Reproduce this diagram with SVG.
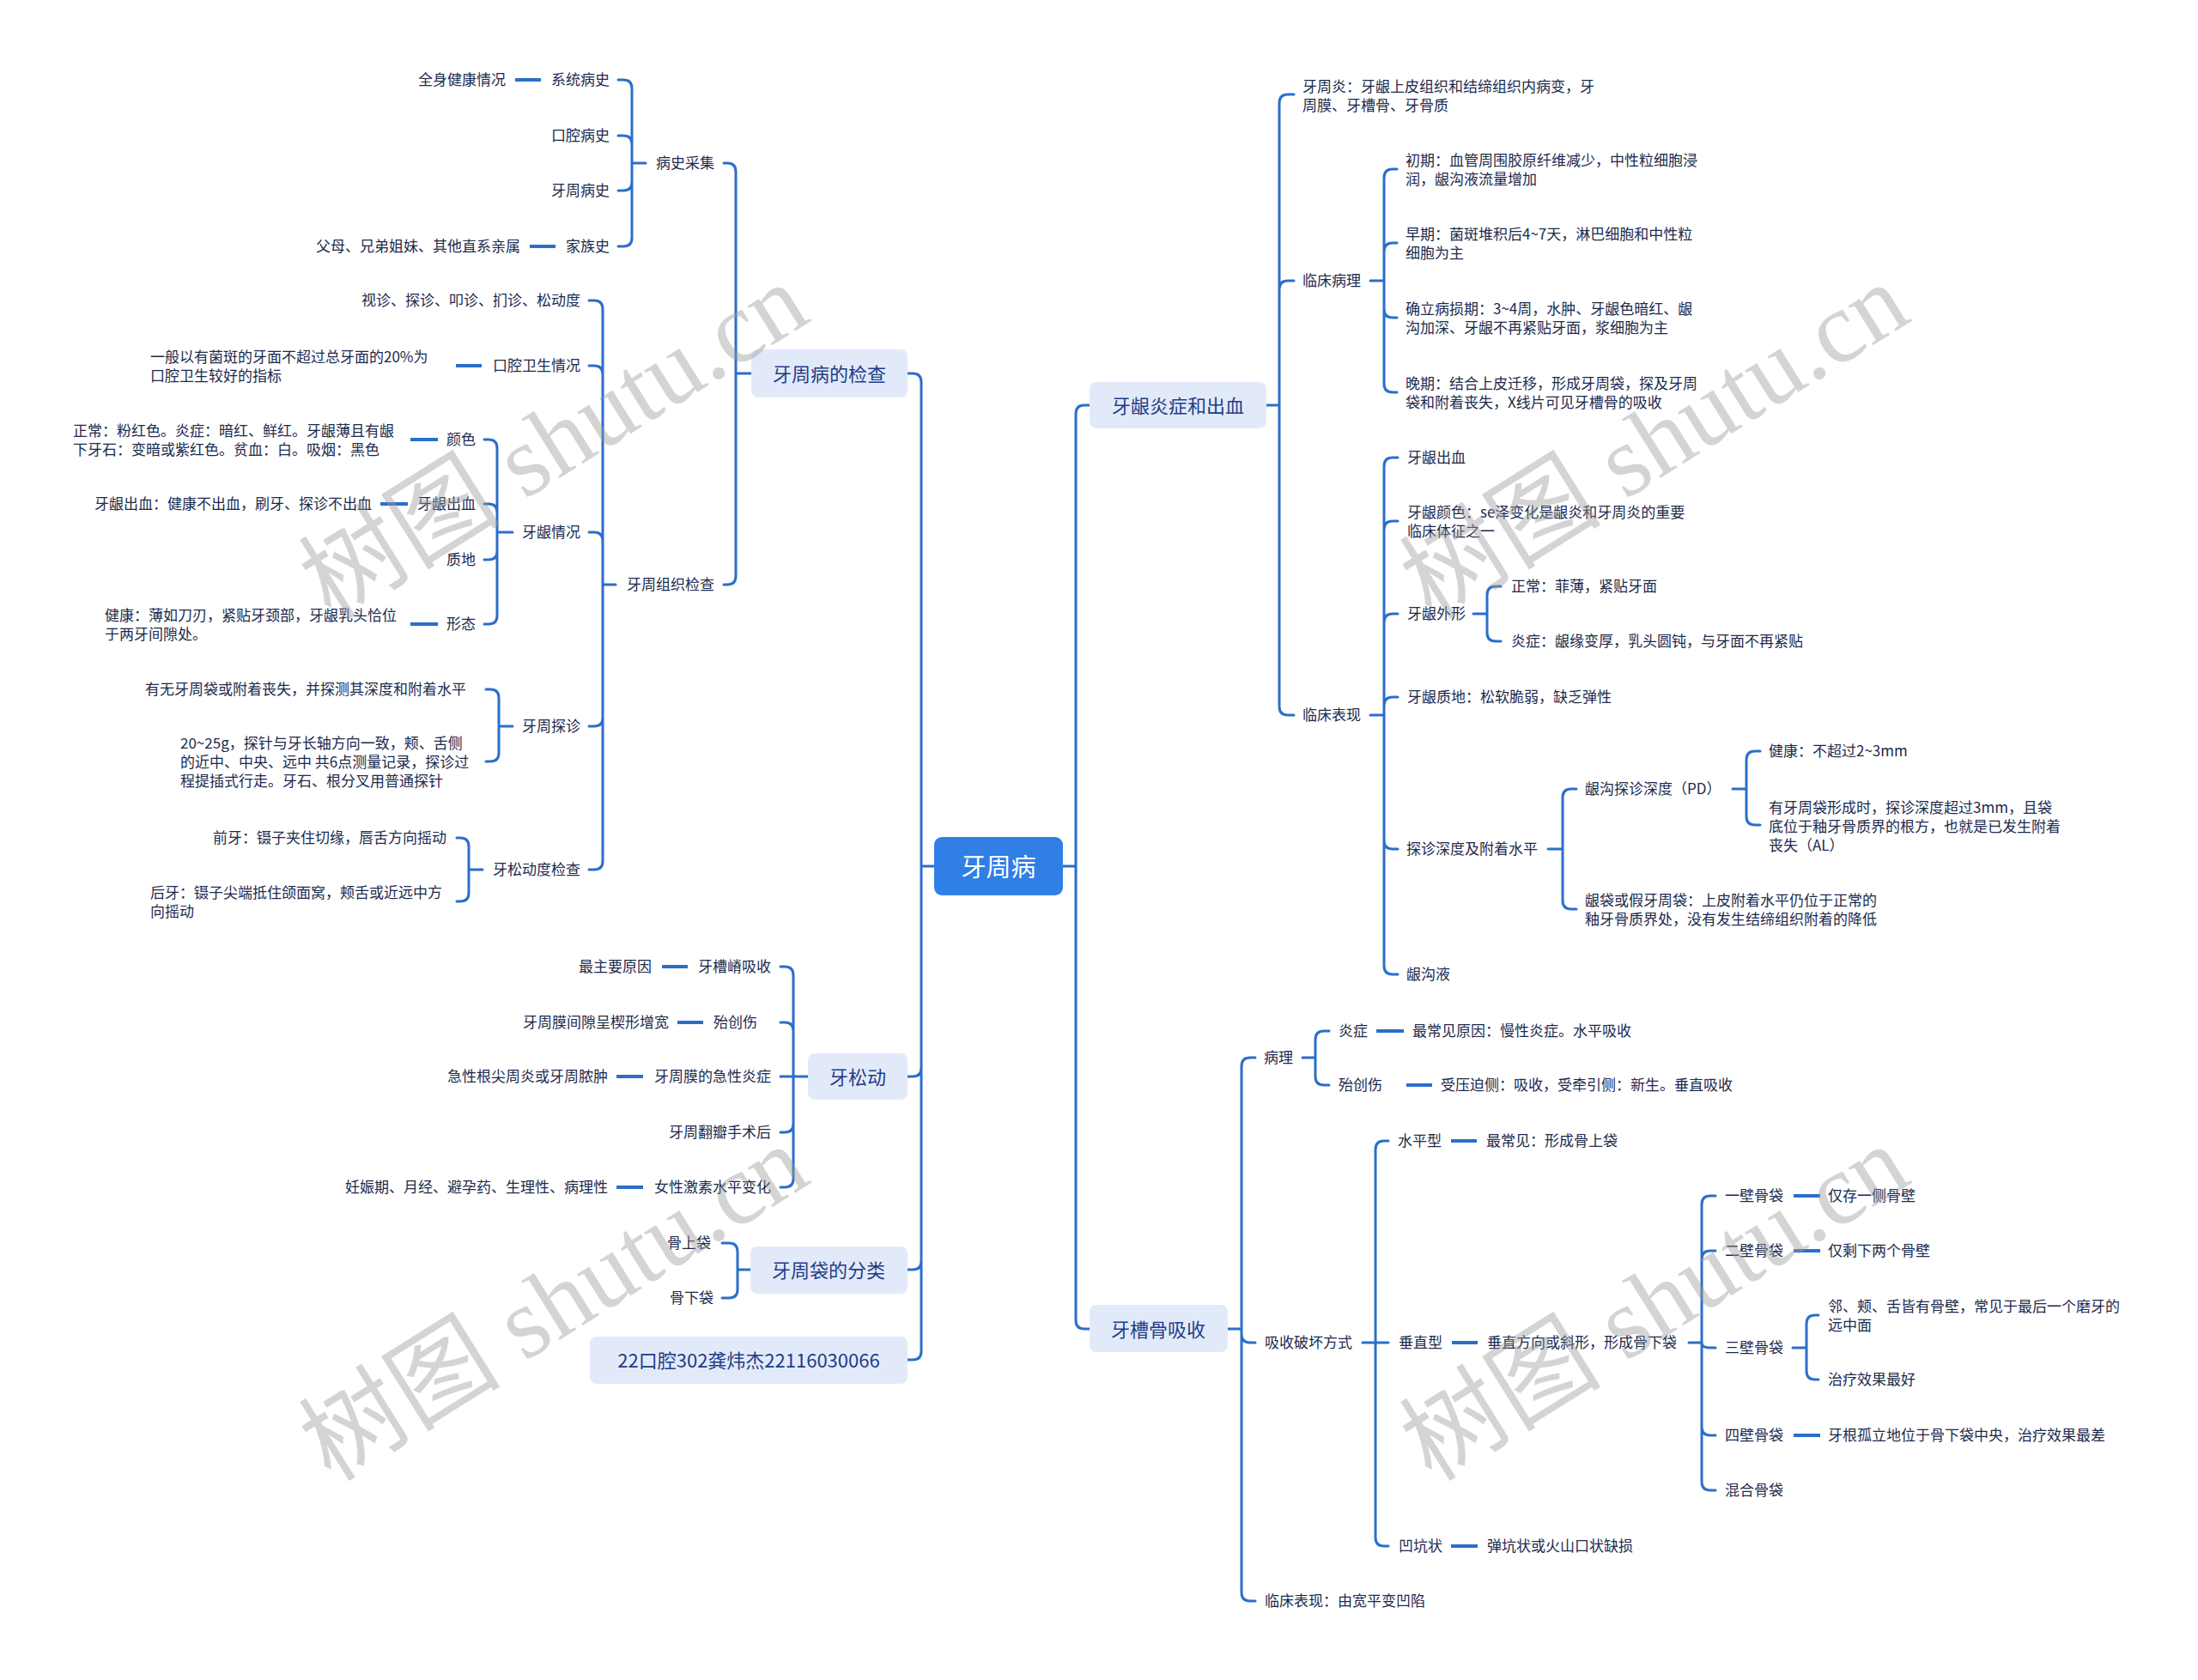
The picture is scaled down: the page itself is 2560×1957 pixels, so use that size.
<svg xmlns="http://www.w3.org/2000/svg" width="2560" height="1957" viewBox="0 0 2560 1957">
<style>
.ln{fill:none;stroke:#2a6fca;stroke-width:3;stroke-linecap:round;stroke-linejoin:round}
.lf{fill:none;stroke:#2a6fca;stroke-width:4}
text{font-family:"Noto Sans CJK SC","Noto Sans",sans-serif;dominant-baseline:central}
.t{font-size:17px;fill:#1c2a4d}
.e{text-anchor:end}
.t1{font-size:22px;fill:#1f3d86;text-anchor:middle}
.b1{fill:#e2eafa}
.wm{font-family:"Liberation Serif","Noto Sans CJK SC",serif;font-size:118px;fill:#9a9a9a;opacity:0.42;dominant-baseline:auto}
</style>
<rect width="2560" height="1957" fill="#ffffff"/>
<g id="connectors">
<path class="ln" d="M1088 1009H1073M1073 1009V445Q1073 435 1063 435H1057M1073 1009V1244Q1073 1254 1063 1254H1057M1073 1009V1469Q1073 1479 1063 1479H1057M1073 1009V1574Q1073 1584 1063 1584H1057"/>
<path class="ln" d="M1238 1009H1253M1253 1009V482Q1253 472 1263 472H1269M1253 1009V1538Q1253 1548 1263 1548H1269"/>
<path class="ln" d="M875 435H857M857 435V200Q857 190 847 190H843M857 435V671Q857 681 847 681H843"/>
<path class="ln" d="M752 190H736M736 190V103Q736 93 726 93H720M736 190V168Q736 158 726 158H720M736 190V212Q736 222 726 222H720M736 190V277Q736 287 726 287H720"/>
<path class="lf" d="M600 93H630M617 287H647"/>
<path class="ln" d="M717 681H702M702 681V360Q702 350 692 350H686M702 681V436Q702 426 692 426H686M702 681V630Q702 620 692 620H686M702 681V836Q702 846 692 846H686M702 681V1003Q702 1013 692 1013H686"/>
<path class="lf" d="M531 426H561"/>
<path class="ln" d="M597 620H579M579 620V522Q579 512 569 512H564M579 620V597Q579 587 569 587H564M579 620V642Q579 652 569 652H564M579 620V717Q579 727 569 727H564"/>
<path class="lf" d="M478 512H510M443 587H475M478 727H510"/>
<path class="ln" d="M597 846H581M581 846V813Q581 803 571 803H566M581 846V877Q581 887 571 887H566"/>
<path class="ln" d="M562 1013H546M546 1013V986Q546 976 536 976H532M546 1013V1040Q546 1050 536 1050H532"/>
<path class="ln" d="M941 1254H924M924 1254V1136Q924 1126 914 1126H909M924 1254V1201Q924 1191 914 1191H909M924 1254H909M924 1254V1309Q924 1319 914 1319H909M924 1254V1373Q924 1383 914 1383H909"/>
<path class="lf" d="M771 1126H801M789 1191H819M718 1254H749M718 1383H749"/>
<path class="ln" d="M874 1479H859M859 1479V1458Q859 1448 849 1448H841M859 1479V1502Q859 1512 849 1512H841"/>
<path class="ln" d="M1475 472H1490M1490 472V120Q1490 110 1500 110H1507M1490 472V337Q1490 327 1500 327H1507M1490 472V823Q1490 833 1500 833H1507"/>
<path class="ln" d="M1596 327H1612M1612 327V207Q1612 197 1622 197H1627M1612 327V293Q1612 283 1622 283H1627M1612 327V360Q1612 370 1622 370H1627M1612 327V447Q1612 457 1622 457H1627"/>
<path class="ln" d="M1596 833H1612M1612 833V543Q1612 533 1622 533H1628M1612 833V617Q1612 607 1622 607H1628M1612 833V725Q1612 715 1622 715H1628M1612 833V822Q1612 812 1622 812H1628M1612 833V979Q1612 989 1622 989H1628M1612 833V1125Q1612 1135 1622 1135H1628"/>
<path class="ln" d="M1716 715H1732M1732 715V693Q1732 683 1742 683H1748M1732 715V737Q1732 747 1742 747H1748"/>
<path class="ln" d="M1803 989H1820M1820 989V929Q1820 919 1830 919H1836M1820 989V1049Q1820 1059 1830 1059H1836"/>
<path class="ln" d="M2018 919H2034M2034 919V885Q2034 875 2044 875H2050M2034 919V951Q2034 961 2044 961H2050"/>
<path class="ln" d="M1430 1548H1446M1446 1548V1242Q1446 1232 1456 1232H1462M1446 1548V1554Q1446 1564 1456 1564H1462M1446 1548V1855Q1446 1865 1456 1865H1462"/>
<path class="ln" d="M1517 1232H1532M1532 1232V1211Q1532 1201 1542 1201H1548M1532 1232V1254Q1532 1264 1542 1264H1548"/>
<path class="lf" d="M1603 1201H1635M1638 1264H1668"/>
<path class="ln" d="M1587 1564H1602M1602 1564V1339Q1602 1329 1612 1329H1617M1602 1564H1617M1602 1564V1791Q1602 1801 1612 1801H1617"/>
<path class="lf" d="M1690 1329H1720M1691 1564H1721M1690 1801H1721"/>
<path class="ln" d="M1967 1564H1982M1982 1564V1403Q1982 1393 1992 1393H1998M1982 1564V1467Q1982 1457 1992 1457H1998M1982 1564Q1982 1570 1992 1570H1998M1982 1564V1662Q1982 1672 1992 1672H1998M1982 1564V1726Q1982 1736 1992 1736H1998"/>
<path class="lf" d="M2089 1393H2120M2089 1457H2120M2089 1672H2120"/>
<path class="ln" d="M2088 1570H2104M2104 1570V1542Q2104 1532 2114 1532H2118M2104 1570V1597Q2104 1607 2114 1607H2118"/>
</g>
<g id="root"><rect x="1088" y="975" width="150" height="68" rx="9" fill="#2f7fe6"/><text x="1163" y="1008" style="font-size:29px;fill:#ffffff;text-anchor:middle">牙周病</text></g>
<g id="n-exam"><rect class="b1" x="875" y="407" width="182" height="56" rx="8"/><text class="t1" x="966" y="434">牙周病的检查</text></g>
<g id="n-loose"><rect class="b1" x="941" y="1227" width="116" height="54" rx="8"/><text class="t1" x="999" y="1253">牙松动</text></g>
<g id="n-pocket"><rect class="b1" x="874" y="1452" width="183" height="55" rx="8"/><text class="t1" x="965" y="1478">牙周袋的分类</text></g>
<g id="n-author"><rect class="b1" x="687" y="1557" width="370" height="55" rx="8"/><text class="t1" x="872" y="1583">22口腔302龚炜杰22116030066</text></g>
<g id="n-gum"><rect class="b1" x="1269" y="445" width="206" height="54" rx="8"/><text class="t1" x="1372" y="471">牙龈炎症和出血</text></g>
<g id="n-bone"><rect class="b1" x="1269" y="1520" width="161" height="55" rx="8"/><text class="t1" x="1349" y="1547">牙槽骨吸收</text></g>
<g id="left-texts" transform="translate(0 -1.5)">
<g id="n-history"><text class="t e" x="832" y="190">病史采集</text></g>
<g id="n-sys"><text class="t e" x="710" y="93">系统病史</text></g>
<g id="n-sys1"><text class="t e" x="589" y="93">全身健康情况</text></g>
<g id="n-oral"><text class="t e" x="710" y="158">口腔病史</text></g>
<g id="n-perio"><text class="t e" x="710" y="222">牙周病史</text></g>
<g id="n-family"><text class="t e" x="710" y="287">家族史</text></g>
<g id="n-family1"><text class="t e" x="606" y="287">父母、兄弟姐妹、其他直系亲属</text></g>
<g id="n-tissue"><text class="t e" x="832" y="681">牙周组织检查</text></g>
<g id="n-visual"><text class="t e" x="676" y="350">视诊、探诊、叩诊、扪诊、松动度</text></g>
<g id="n-hyg"><text class="t e" x="676" y="426">口腔卫生情况</text></g>
<g id="n-hyg1"><text class="t" x="175"><tspan x="175" y="415">一般以有菌斑的牙面不超过总牙面的20%为</tspan><tspan x="175" y="437">口腔卫生较好的指标</tspan></text></g>
<g id="n-gingiva"><text class="t e" x="676" y="620">牙龈情况</text></g>
<g id="n-color"><text class="t e" x="554" y="512">颜色</text></g>
<g id="n-color1"><text class="t" x="85"><tspan x="85" y="501">正常：粉红色。炎症：暗红、鲜红。牙龈薄且有龈</tspan><tspan x="85" y="523">下牙石：变暗或紫红色。贫血：白。吸烟：黑色</tspan></text></g>
<g id="n-bleed"><text class="t e" x="554" y="587">牙龈出血</text></g>
<g id="n-bleed1"><text class="t e" x="433" y="587">牙龈出血：健康不出血，刷牙、探诊不出血</text></g>
<g id="n-texture"><text class="t e" x="554" y="652">质地</text></g>
<g id="n-shape"><text class="t e" x="554" y="727">形态</text></g>
<g id="n-shape1"><text class="t" x="122"><tspan x="122" y="716">健康：薄如刀刃，紧贴牙颈部，牙龈乳头恰位</tspan><tspan x="122" y="738">于两牙间隙处。</tspan></text></g>
<g id="n-probe"><text class="t e" x="676" y="846">牙周探诊</text></g>
<g id="n-probe1"><text class="t e" x="543" y="803">有无牙周袋或附着丧失，并探测其深度和附着水平</text></g>
<g id="n-probe2"><text class="t" x="210"><tspan x="210" y="865">20~25g，探针与牙长轴方向一致，颊、舌侧</tspan><tspan x="210" y="887">的近中、中央、远中 共6点测量记录，探诊过</tspan><tspan x="210" y="909">程提插式行走。牙石、根分叉用普通探针</tspan></text></g>
<g id="n-mob"><text class="t e" x="676" y="1013">牙松动度检查</text></g>
<g id="n-mob1"><text class="t e" x="520" y="976">前牙：镊子夹住切缘，唇舌方向摇动</text></g>
<g id="n-mob2"><text class="t" x="175"><tspan x="175" y="1039">后牙：镊子尖端抵住颌面窝，颊舌或近远中方</tspan><tspan x="175" y="1061">向摇动</tspan></text></g>
<g id="n-l1"><text class="t e" x="898" y="1126">牙槽嵴吸收</text></g>
<g id="n-l1a"><text class="t e" x="759" y="1126">最主要原因</text></g>
<g id="n-l2"><text class="t e" x="882" y="1191">殆创伤</text></g>
<g id="n-l2a"><text class="t e" x="779" y="1191">牙周膜间隙呈楔形增宽</text></g>
<g id="n-l3"><text class="t e" x="898" y="1254">牙周膜的急性炎症</text></g>
<g id="n-l3a"><text class="t e" x="708" y="1254">急性根尖周炎或牙周脓肿</text></g>
<g id="n-l4"><text class="t e" x="898" y="1319">牙周翻瓣手术后</text></g>
<g id="n-l5"><text class="t e" x="898" y="1383">女性激素水平变化</text></g>
<g id="n-l5a"><text class="t e" x="708" y="1383">妊娠期、月经、避孕药、生理性、病理性</text></g>
<g id="n-p1"><text class="t e" x="828" y="1448">骨上袋</text></g>
<g id="n-p2"><text class="t e" x="831" y="1512">骨下袋</text></g>
</g>
<g id="right-texts" transform="translate(0 -1.5)">
<g id="n-r1"><text class="t" x="1517"><tspan x="1517" y="100">牙周炎：牙龈上皮组织和结缔组织内病变，牙</tspan><tspan x="1517" y="122">周膜、牙槽骨、牙骨质</tspan></text></g>
<g id="n-r2"><text class="t" x="1517" y="327">临床病理</text></g>
<g id="n-r2a"><text class="t" x="1637"><tspan x="1637" y="186">初期：血管周围胶原纤维减少，中性粒细胞浸</tspan><tspan x="1637" y="208">润，龈沟液流量增加</tspan></text></g>
<g id="n-r2b"><text class="t" x="1637"><tspan x="1637" y="272">早期：菌斑堆积后4~7天，淋巴细胞和中性粒</tspan><tspan x="1637" y="294">细胞为主</tspan></text></g>
<g id="n-r2c"><text class="t" x="1637"><tspan x="1637" y="359">确立病损期：3~4周，水肿、牙龈色暗红、龈</tspan><tspan x="1637" y="381">沟加深、牙龈不再紧贴牙面，浆细胞为主</tspan></text></g>
<g id="n-r2d"><text class="t" x="1637"><tspan x="1637" y="446">晚期：结合上皮迁移，形成牙周袋，探及牙周</tspan><tspan x="1637" y="468">袋和附着丧失，X线片可见牙槽骨的吸收</tspan></text></g>
<g id="n-r3"><text class="t" x="1517" y="833">临床表现</text></g>
<g id="n-r3a"><text class="t" x="1639" y="533">牙龈出血</text></g>
<g id="n-r3b"><text class="t" x="1639"><tspan x="1639" y="596">牙龈颜色：se泽变化是龈炎和牙周炎的重要</tspan><tspan x="1639" y="618">临床体征之一</tspan></text></g>
<g id="n-r3c"><text class="t" x="1639" y="715">牙龈外形</text></g>
<g id="n-r3c1"><text class="t" x="1760" y="683">正常：菲薄，紧贴牙面</text></g>
<g id="n-r3c2"><text class="t" x="1760" y="747">炎症：龈缘变厚，乳头圆钝，与牙面不再紧贴</text></g>
<g id="n-r3d"><text class="t" x="1639" y="812">牙龈质地：松软脆弱，缺乏弹性</text></g>
<g id="n-r3e"><text class="t" x="1638" y="989">探诊深度及附着水平</text></g>
<g id="n-r3e1"><text class="t" x="1846" y="919">龈沟探诊深度（PD）</text></g>
<g id="n-r3e1a"><text class="t" x="2060" y="875">健康：不超过2~3mm</text></g>
<g id="n-r3e1b"><text class="t" x="2060"><tspan x="2060" y="940">有牙周袋形成时，探诊深度超过3mm，且袋</tspan><tspan x="2060" y="962">底位于釉牙骨质界的根方，也就是已发生附着</tspan><tspan x="2060" y="984">丧失（AL）</tspan></text></g>
<g id="n-r3e2"><text class="t" x="1846"><tspan x="1846" y="1048">龈袋或假牙周袋：上皮附着水平仍位于正常的</tspan><tspan x="1846" y="1070">釉牙骨质界处，没有发生结缔组织附着的降低</tspan></text></g>
<g id="n-r3f"><text class="t" x="1638" y="1135">龈沟液</text></g>
<g id="n-b1"><text class="t" x="1472" y="1232">病理</text></g>
<g id="n-b1a"><text class="t" x="1559" y="1201">炎症</text></g>
<g id="n-b1a1"><text class="t" x="1645" y="1201">最常见原因：慢性炎症。水平吸收</text></g>
<g id="n-b1b"><text class="t" x="1559" y="1264">殆创伤</text></g>
<g id="n-b1b1"><text class="t" x="1678" y="1264">受压迫侧：吸收，受牵引侧：新生。垂直吸收</text></g>
<g id="n-b2"><text class="t" x="1473" y="1564">吸收破坏方式</text></g>
<g id="n-b2a"><text class="t" x="1628" y="1329">水平型</text></g>
<g id="n-b2a1"><text class="t" x="1731" y="1329">最常见：形成骨上袋</text></g>
<g id="n-b2b"><text class="t" x="1629" y="1564">垂直型</text></g>
<g id="n-b2b1"><text class="t" x="1732" y="1564">垂直方向或斜形，形成骨下袋</text></g>
<g id="n-w1"><text class="t" x="2009" y="1393">一壁骨袋</text></g>
<g id="n-w1a"><text class="t" x="2129" y="1393">仅存一侧骨壁</text></g>
<g id="n-w2"><text class="t" x="2009" y="1457">二壁骨袋</text></g>
<g id="n-w2a"><text class="t" x="2129" y="1457">仅剩下两个骨壁</text></g>
<g id="n-w3"><text class="t" x="2009" y="1570">三壁骨袋</text></g>
<g id="n-w3a"><text class="t" x="2129"><tspan x="2129" y="1521">邻、颊、舌皆有骨壁，常见于最后一个磨牙的</tspan><tspan x="2129" y="1543">远中面</tspan></text></g>
<g id="n-w3b"><text class="t" x="2129" y="1607">治疗效果最好</text></g>
<g id="n-w4"><text class="t" x="2009" y="1672">四壁骨袋</text></g>
<g id="n-w4a"><text class="t" x="2129" y="1672">牙根孤立地位于骨下袋中央，治疗效果最差</text></g>
<g id="n-w5"><text class="t" x="2009" y="1736">混合骨袋</text></g>
<g id="n-b2c"><text class="t" x="1629" y="1801">凹坑状</text></g>
<g id="n-b2c1"><text class="t" x="1732" y="1801">弹坑状或火山口状缺损</text></g>
<g id="n-b3"><text class="t" x="1473" y="1865">临床表现：由宽平变凹陷</text></g>
</g>
<g id="watermark">
<text class="wm" transform="translate(645 514) rotate(-32)" text-anchor="middle" y="40">树图 shutu.cn</text>
<text class="wm" transform="translate(1927 514) rotate(-32)" text-anchor="middle" y="40">树图 shutu.cn</text>
<text class="wm" transform="translate(645 1518) rotate(-32)" text-anchor="middle" y="40">树图 shutu.cn</text>
<text class="wm" transform="translate(1927 1518) rotate(-32)" text-anchor="middle" y="40">树图 shutu.cn</text>
</g>
</svg>
